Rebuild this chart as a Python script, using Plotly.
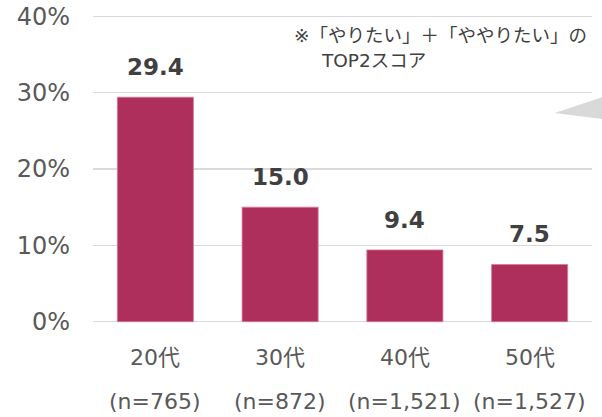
import plotly.graph_objects as go

categories = ["20代", "30代", "40代", "50代"]
sample_sizes = ["(n=765)", "(n=872)", "(n=1,521)", "(n=1,527)"]
values = [29.4, 15.0, 9.4, 7.5]
y_ticks = [0, 10, 20, 30, 40]
y_tick_labels = ["0%", "10%", "20%", "30%", "40%"]
note_line1 = "※「やりたい」＋「ややりたい」の"
note_line2 = "TOP2スコア"

FONT = "DejaVu Sans, Noto Sans CJK JP, sans-serif"
BAR = "#AE2F5B"
GRID = "#D9D9D9"
TXT = "#595959"
DARK = "#404040"

fig = go.Figure(go.Bar(
    x=categories, y=values,
    marker=dict(color=BAR, line=dict(color="#D77A98", width=0.8)),
    width=0.61, hoverinfo="skip",
))

annotations = []
for c, v in zip(categories, values):
    annotations.append(dict(x=c, y=v, xref="x", yref="y", text=f"{v:.1f}",
                            showarrow=False, yshift=30,
                            font=dict(family=FONT, size=23, color=DARK, weight="bold")))
for c, n in zip(categories, sample_sizes):
    annotations.append(dict(x=c, y=-0.1085, xref="x", yref="paper", text=c,
                            showarrow=False, yanchor="middle",
                            font=dict(family=FONT, size=22, color=TXT)))
    annotations.append(dict(x=c, y=-0.2502, xref="x", yref="paper", text=n,
                            showarrow=False, yanchor="middle",
                            font=dict(family=FONT, size=22, color=TXT)))
annotations.append(dict(x=0.398, y=0.9314, xref="paper", yref="paper", text=note_line1,
                        showarrow=False, xanchor="left", yanchor="middle",
                        font=dict(family=FONT, size=18.5, color=DARK)))
annotations.append(dict(x=0.452, y=0.8509, xref="paper", yref="paper", text=note_line2,
                        showarrow=False, xanchor="left", yanchor="middle",
                        font=dict(family=FONT, size=18.5, color=DARK)))

fig.update_layout(
    width=602, height=417,
    margin=dict(l=92.5, r=9.5, t=13.7, b=92.7, pad=0, autoexpand=False),
    paper_bgcolor="white", plot_bgcolor="white",
    showlegend=False,
    bargap=0.39,
    xaxis=dict(showticklabels=False, showgrid=False, zeroline=False, showline=False,
               ticks="", automargin=False),
    yaxis=dict(range=[-0.3, 40.3], tickvals=y_ticks, ticktext=y_tick_labels,
               showgrid=True, gridcolor=GRID, gridwidth=1.5, zeroline=False,
               showline=False, ticks="", ticklabelstandoff=22, automargin=False,
               ticklabeloverflow="allow",
               tickfont=dict(family=FONT, size=24, color=TXT)),
    annotations=annotations,
    shapes=[dict(type="path", xref="paper", yref="paper",
                 path="M 0.925 0.6803 L 1.02 0.7318 L 1.02 0.6610 Z",
                 fillcolor=GRID, line=dict(width=0), layer="above")],
)

fig.write_html("out.html",
               config={"displayModeBar": False, "staticPlot": True},
               post_script="document.body.style.margin='0';document.body.style.overflow='hidden';")
